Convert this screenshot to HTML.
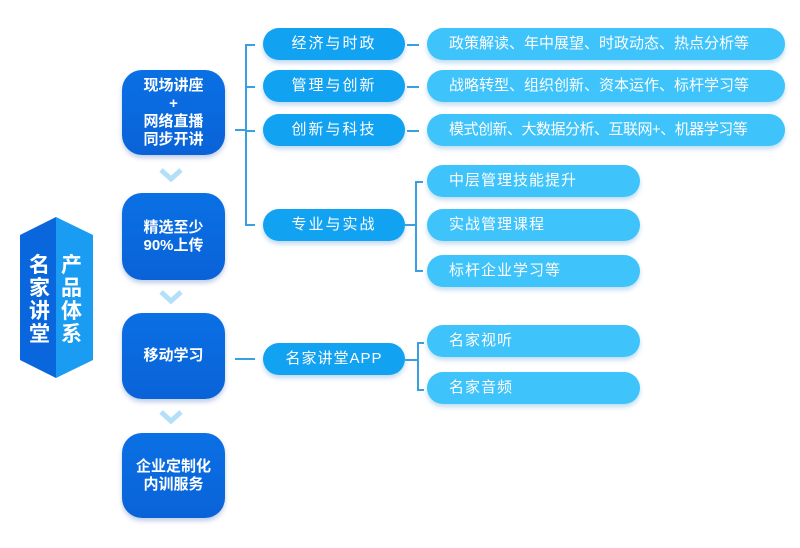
<!DOCTYPE html>
<html><head><meta charset="utf-8"><style>
body{margin:0;width:800px;height:548px;background:#fff;position:relative;overflow:hidden;font-family:"Liberation Sans","Noto Sans CJK SC",sans-serif;}
.a{position:absolute}
.box{position:absolute;left:122px;width:103px;border-radius:20px;background:linear-gradient(#0a70e4,#0a62d8);color:#fff;font-weight:bold;font-size:15px;line-height:18px;display:flex;align-items:center;justify-content:center;text-align:center;box-shadow:0 3px 5px rgba(0,60,160,.25)}
.p2{position:absolute;left:263px;width:142px;height:32px;border-radius:16px;background:#12a2f2;color:#fff;font-size:15px;line-height:32px;text-align:center;letter-spacing:2px;box-shadow:0 3px 5px rgba(0,100,200,.25)}
.p3{position:absolute;left:427px;height:32px;border-radius:16px;background:#3ec3fa;color:#fff;font-size:15px;line-height:32px;padding-left:22px;box-sizing:border-box;letter-spacing:1px;box-shadow:0 3px 5px rgba(0,120,200,.25);white-space:nowrap}
.p3.l{letter-spacing:0px}
.ln{position:absolute;background:#3a9fe0}
.ch{position:absolute;left:158px;width:26px;height:16px}
</style></head><body>
<svg class="a" style="left:0;top:0" width="110" height="400">
<polygon points="56,217 20,235 20,360 56,378" fill="#0a66dc"/>
<polygon points="56,217 93,235 93,360 56,378" fill="#1a9cf2"/>
</svg>
<div class="a" style="left:29px;top:254px;width:22px;font-size:21px;line-height:23px;color:#fff;font-weight:bold">名<br>家<br>讲<br>堂</div>
<div class="a" style="left:61px;top:254px;width:22px;font-size:21px;line-height:23px;color:#fff;font-weight:bold">产<br>品<br>体<br>系</div>

<div class="box" style="top:70px;height:85px">现场讲座<br>+<br>网络直播<br>同步开讲</div>
<div class="box" style="top:193px;height:87px">精选至少<br>90%上传</div>
<div class="box" style="top:313px;height:86px">移动学习</div>
<div class="box" style="top:433px;height:85px">企业定制化<br>内训服务</div>
<svg class="ch" style="top:167px" viewBox="0 0 26 16"><polyline points="3,3 13,12 23,3" fill="none" stroke="#b3e0f8" stroke-width="5"/></svg>
<svg class="ch" style="top:289px" viewBox="0 0 26 16"><polyline points="3,3 13,12 23,3" fill="none" stroke="#b3e0f8" stroke-width="5"/></svg>
<svg class="ch" style="top:409px" viewBox="0 0 26 16"><polyline points="3,3 13,12 23,3" fill="none" stroke="#b3e0f8" stroke-width="5"/></svg>

<div class="ln" style="left:235px;top:129px;width:10px;height:1.5px"></div>
<div class="ln" style="left:245px;top:44px;width:1.5px;height:181px"></div>
<div class="ln" style="left:245px;top:44px;width:10px;height:1.5px"></div>
<div class="ln" style="left:245px;top:86px;width:10px;height:1.5px"></div>
<div class="ln" style="left:245px;top:130px;width:10px;height:1.5px"></div>
<div class="ln" style="left:245px;top:224px;width:10px;height:1.5px"></div>
<div class="ln" style="left:235px;top:358px;width:20px;height:1.5px"></div>

<div class="p2" style="top:28px">经济与时政</div>
<div class="p2" style="top:70px">管理与创新</div>
<div class="p2" style="top:114px">创新与科技</div>
<div class="p2" style="top:209px">专业与实战</div>
<div class="p2" style="top:343px;letter-spacing:1px">名家讲堂APP</div>

<div class="ln" style="left:407px;top:44px;width:12px;height:1.5px"></div>
<div class="ln" style="left:407px;top:86px;width:12px;height:1.5px"></div>
<div class="ln" style="left:407px;top:130px;width:12px;height:1.5px"></div>
<div class="ln" style="left:405px;top:224px;width:10px;height:1.5px"></div>
<div class="ln" style="left:415px;top:181px;width:1.5px;height:90px"></div>
<div class="ln" style="left:415px;top:181px;width:8px;height:1.5px"></div>
<div class="ln" style="left:415px;top:270px;width:8px;height:1.5px"></div>
<div class="ln" style="left:405px;top:359px;width:12px;height:1.5px"></div>
<div class="ln" style="left:417px;top:342px;width:1.5px;height:48px"></div>
<div class="ln" style="left:417px;top:342px;width:7px;height:1.5px"></div>
<div class="ln" style="left:417px;top:389px;width:7px;height:1.5px"></div>

<div class="p3 l" style="top:28px;width:358px">政策解读、年中展望、时政动态、热点分析等</div>
<div class="p3 l" style="top:70px;width:358px">战略转型、组织创新、资本运作、标杆学习等</div>
<div class="p3 l" style="top:114px;width:358px;letter-spacing:-0.5px">模式创新、大数据分析、互联网+、机器学习等</div>
<div class="p3" style="top:165px;width:213px">中层管理技能提升</div>
<div class="p3" style="top:209px;width:213px">实战管理课程</div>
<div class="p3" style="top:255px;width:213px">标杆企业学习等</div>
<div class="p3" style="top:325px;width:213px">名家视听</div>
<div class="p3" style="top:372px;width:213px">名家音频</div>
</body></html>
